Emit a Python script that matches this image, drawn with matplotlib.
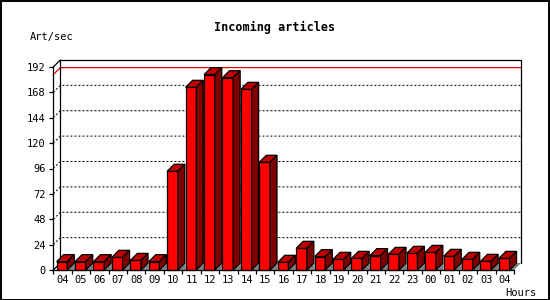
import matplotlib
matplotlib.use("Agg")
import matplotlib.pyplot as plt
from matplotlib.patches import Polygon, Rectangle

# data
hours = ['04', '05', '06', '07', '08', '09', '10', '11', '12', '13', '14', '15', '16',
         '17', '18', '19', '20', '21', '22', '23', '00', '01', '02', '03', '04']
values = [7.9, 7.9, 7.9, 12, 9.1, 7.9, 93.4, 172.8, 184.8, 181.9, 170.9, 101.9, 7.3,
          20.5, 12.6, 10.1, 11, 13.6, 14.8, 15.8, 16.7, 12.9, 10.1, 8.2, 11]
yticks = [0, 24, 48, 72, 96, 120, 144, 168, 192]

plt.rcParams['font.family'] = 'DejaVu Sans Mono'

W, H = 550, 300
fig = plt.figure(figsize=(W / 100, H / 100), dpi=100)
ax_l, ax_b, ax_w, ax_h = 53.3, 30, 460.7, 203   # pixels
ax = fig.add_axes([ax_l / W, ax_b / H, ax_w / W, ax_h / H])
n = len(values)
ymax = yticks[-1]
ax.set_xlim(0, n)
ax.set_ylim(0, ymax)
ax.patch.set_visible(False)

# 3d depth in data units (7px)
depth = 7
dx = depth / (ax_w / n)
dy = depth / (ax_h / ymax)

# back wall outline
ax.plot([dx, dx, n + dx, n + dx], [dy, ymax + dy, ymax + dy, dy],
        color='black', lw=0.9, clip_on=False, zorder=2)
ax.plot([0, dx], [ymax, ymax + dy], color='black', lw=0.9, clip_on=False, zorder=2)
ax.plot([0, dx], [0, dy], color='black', lw=0.9, clip_on=False, zorder=2)

# dotted grid on the back wall
for v in yticks[1:-1]:
    ax.plot([0, dx, n + dx], [v, v + dy, v + dy], color='black', lw=0.72,
            dashes=(2, 2), clip_on=False, zorder=1)

# max line
vmax = max(values)
ax.plot([0, dx, n + dx], [vmax, vmax + dy, vmax + dy], color='#e00000', lw=0.9,
        clip_on=False, zorder=1)

# bars
off, bw = 0.18, 0.58
for i, v in enumerate(values):
    x0 = i + off
    x1 = x0 + bw
    nxt = i + 1 + off if i < n - 1 else n
    ax.add_patch(Polygon([(x1, 0), (x1 + dx, dy), (nxt + dx if i == n - 1 else nxt, dy), (nxt, 0)],
                         closed=True, fc='#808080', ec='none', zorder=3, clip_on=False))
    ax.add_patch(Rectangle((x0, 0), bw, v, fc='#ff0000', ec='black', lw=0.9,
                           zorder=4, clip_on=False))
    ax.add_patch(Polygon([(x0, v), (x1, v), (x1 + dx, v + dy), (x0 + dx, v + dy)],
                         closed=True, fc='#c00000', ec='black', lw=0.9, zorder=4, clip_on=False))
    ax.add_patch(Polygon([(x1, 0), (x1, v), (x1 + dx, v + dy), (x1 + dx, dy)],
                         closed=True, fc='#800000', ec='black', lw=0.9, zorder=4, clip_on=False))

# axes
for s in ['top', 'right']:
    ax.spines[s].set_visible(False)
for s in ['left', 'bottom']:
    ax.spines[s].set_linewidth(0.9)
    ax.spines[s].set_zorder(5)
ax.set_yticks(yticks)
ax.set_yticklabels([str(t) for t in yticks], fontsize=7.5)
ax.tick_params(axis='y', direction='out', length=3, width=0.9, pad=2.5)
ax.set_xticks(range(n + 1))
ax.set_xticklabels([''] * (n + 1))
ax.set_xticks([i + 0.5 for i in range(n)], minor=True)
ax.set_xticklabels(hours, minor=True, fontsize=7.5)
ax.tick_params(axis='x', which='major', direction='out', length=3, width=0.9)
ax.tick_params(axis='x', which='minor', length=0, pad=3.5)

fig.text(0.5, 1 - 27 / H, 'Incoming articles', ha='center', va='center',
         fontsize=8.5, fontweight='bold')
fig.text(30 / W, 1 - 37 / H, 'Art/sec', ha='left', va='center', fontsize=7.5)
fig.text(505 / W, 1 - 292.5 / H, 'Hours', ha='left', va='center', fontsize=7.5)

# outer frame
fig.patches.append(Rectangle((0.5 / W, 0.5 / H), 1 - 1.5 / W, 1 - 1.5 / H,
                             transform=fig.transFigure, fill=False, ec='black', lw=1.4))

fig.savefig('out.png', dpi=100)
